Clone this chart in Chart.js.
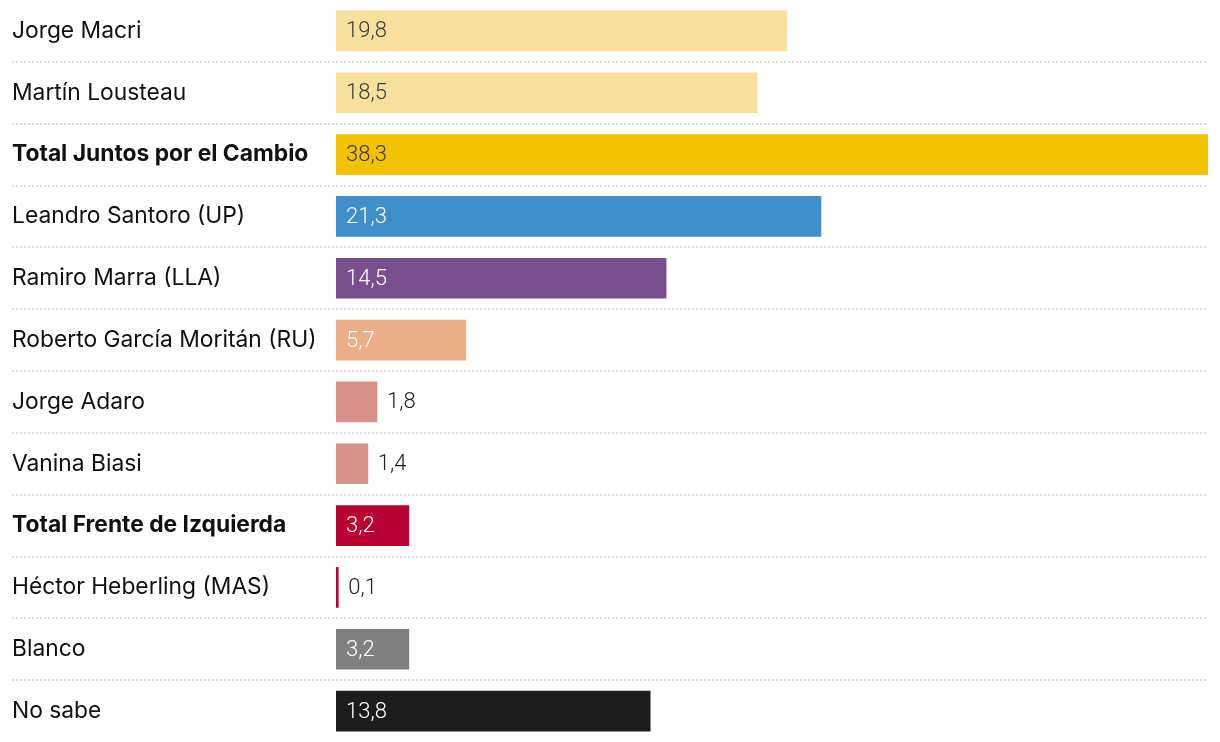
<!DOCTYPE html>
<html>
<head>
<meta charset="utf-8">
<script src="https://cdn.jsdelivr.net/npm/chart.js@4.4.0/dist/chart.umd.min.js"></script>
<style>
  body { margin: 0; background: #fff; }
  #wrap { width: 1220px; height: 742px; }
</style>
</head>
<body>
<div id="wrap"><canvas id="pollChart" width="1220" height="742"></canvas></div>
<script>
// Data
const candidates = [
  'Jorge Macri',
  'Martín Lousteau',
  'Total Juntos por el Cambio',
  'Leandro Santoro (UP)',
  'Ramiro Marra (LLA)',
  'Roberto García Moritán (RU)',
  'Jorge Adaro',
  'Vanina Biasi',
  'Total Frente de Izquierda',
  'Héctor Heberling (MAS)',
  'Blanco',
  'No sabe'
];
const percentages = [19.8, 18.5, 38.3, 21.3, 14.5, 5.7, 1.8, 1.4, 3.2, 0.1, 3.2, 13.8];
const totalRows = ['Total Juntos por el Cambio', 'Total Frente de Izquierda'];

const barColors = ['#f9e09c', '#f9e09c', '#f2c200', '#3f8fcb', '#7a4f8e', '#ecae87',
  '#d8908a', '#d8908a', '#b90032', '#b90032', '#808080', '#1c1c1c'];
const darkText = ['#f9e09c', '#f2c200'];

const fmt = v => v.toFixed(1).replace('.', ',');

// dotted separators between rows, running under the labels too
const separators = {
  id: 'separators',
  beforeDraw(chart) {
    const ctx = chart.ctx;
    const yScale = chart.scales.y;
    ctx.save();
    ctx.strokeStyle = '#d2d2d2';
    ctx.lineWidth = 1.5;
    ctx.setLineDash([2, 2]);
    for (let i = 0; i < candidates.length - 1; i++) {
      const y = Math.round((yScale.getPixelForTick(i) + yScale.getPixelForTick(i + 1)) / 2);
      ctx.beginPath();
      ctx.moveTo(12, y);
      ctx.lineTo(chart.chartArea.right, y);
      ctx.stroke();
    }
    ctx.restore();
  }
};

// value labels inside (or just after) each bar
const valueLabels = {
  id: 'valueLabels',
  afterDatasetsDraw(chart) {
    const ctx = chart.ctx;
    const meta = chart.getDatasetMeta(0);
    ctx.save();
    ctx.font = '300 22px Roboto';
    ctx.textBaseline = 'middle';
    ctx.textAlign = 'left';
    meta.data.forEach((bar, i) => {
      const w = bar.x - bar.base;
      let x, color;
      if (w < 45) {
        x = bar.x + 10;
        color = '#222';
      } else {
        x = bar.base + 10;
        color = darkText.includes(barColors[i]) ? '#3a3a3a' : '#fff';
      }
      ctx.fillStyle = color;
      ctx.fillText(fmt(percentages[i]), x, bar.y + 1);
    });
    ctx.restore();
  }
};

const chart = new Chart(document.getElementById('pollChart'), {
  type: 'bar',
  data: {
    labels: candidates,
    datasets: [{
      data: percentages,
      backgroundColor: barColors,
      borderWidth: 0,
      barThickness: 40
    }]
  },
  options: {
    indexAxis: 'y',
    responsive: false,
    animation: false,
    layout: { padding: { left: 12, right: 12, top: 0, bottom: 0 } },
    plugins: {
      legend: { display: false },
      tooltip: { enabled: false }
    },
    scales: {
      x: {
        display: false,
        min: 0,
        max: 38.3
      },
      y: {
        border: { display: false },
        grid: { display: false },
        afterFit(scale) {
          scale.width = 324;
          scale.paddingTop = 0;
          scale.paddingBottom = 0;
        },
        ticks: {
          crossAlign: 'far',
          color: '#111',
          padding: 0,
          font: ctx => ({
            family: 'Inter',
            size: 22.8,
            weight: totalRows.includes(candidates[ctx.index]) ? 'bold' : 'normal'
          })
        }
      }
    }
  },
  plugins: [separators, valueLabels]
});
</script>
</body>
</html>
